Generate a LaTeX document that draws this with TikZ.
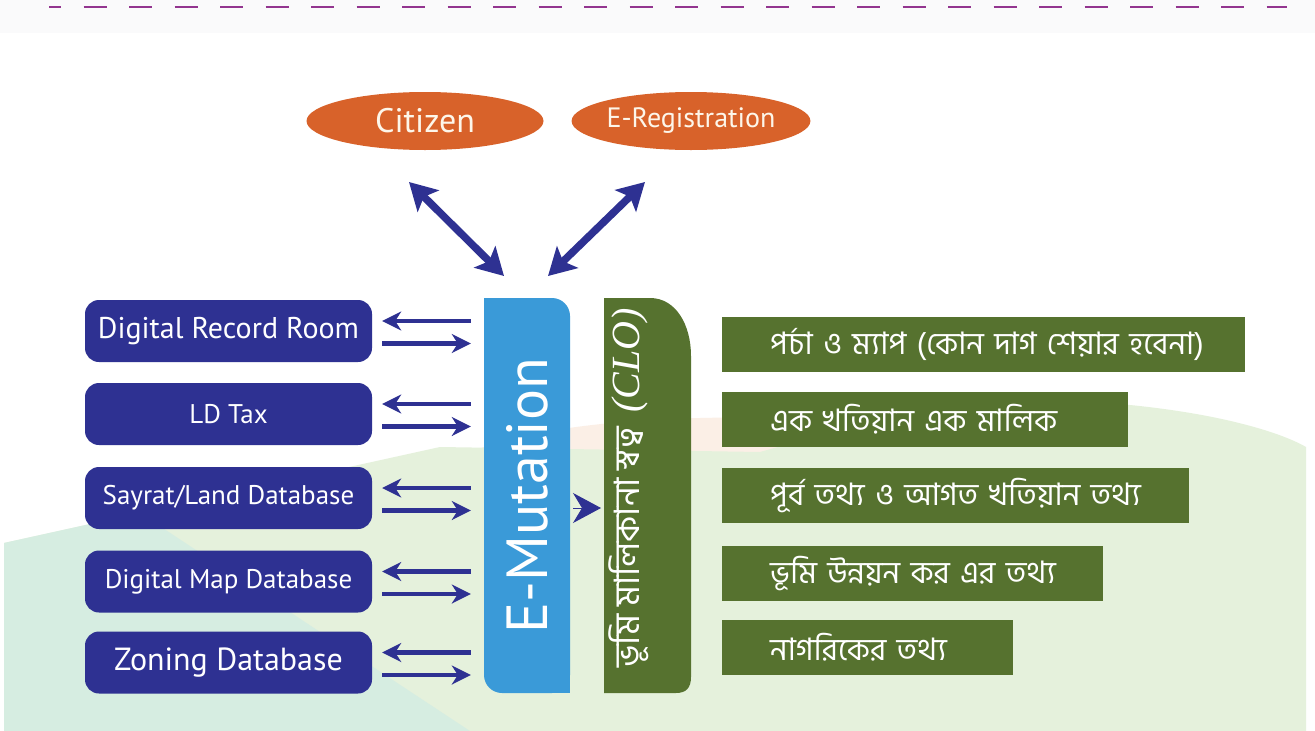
\documentclass[tikz,border=0pt]{standalone}
\usepackage{fontspec}
\setmainfont{PT Sans}
\newfontfamily\bn[Script=Bengali]{Hind Siliguri}
\newfontfamily\tnr{Liberation Serif}
\usetikzlibrary{arrows.meta,calc,shapes.geometric}
\newcommand{\setfs}[1]{\fontsize{#1}{#1}\selectfont}
\definecolor{navy}{HTML}{2E3192}
\definecolor{orangec}{HTML}{D8622A}
\definecolor{cream}{HTML}{FDF6EA}
\definecolor{emblue}{HTML}{3A9AD8}
\definecolor{cgreen}{HTML}{56722F}
\definecolor{dashc}{HTML}{93358F}
\definecolor{topgray}{HTML}{FAFAFB}
\definecolor{bggreen}{HTML}{E5F1DC}
\definecolor{bgteal}{HTML}{D6EDE1}
\definecolor{bgpeach}{HTML}{FBEFE6}
\begin{document}
\begin{tikzpicture}[x=1pt,y=-1pt,
  leftbox/.style={fill=navy, rounded corners=14pt, text=white, minimum width=287pt, minimum height=62pt, inner sep=0pt},
  gbox/.style={fill=cgreen, anchor=west, minimum height=55pt, inner xsep=48pt, inner ysep=0pt, text=white, font=\bn\setfs{31}, align=left},
  oval/.style={ellipse, fill=orangec, text=cream, inner sep=0pt},
  larrow/.style={draw=navy, line width=4.5pt, -{Stealth[length=19pt,width=19pt,inset=6pt]}},
  bigarrow/.style={draw=navy, line width=7.5pt, {Stealth[length=27pt,width=30pt,inset=6pt]}-{Stealth[length=27pt,width=30pt,inset=6pt]}},
  dashline/.style={draw=dashc, line width=2.6pt, dash pattern=on 23pt off 22.5pt, dash phase=11pt}
]
% background
\fill[white] (0,0) rectangle (1315,731);
\fill[topgray] (0,0) rectangle (1315,33);
\fill[bgpeach] (470,452) .. controls (540,425) and (650,415) .. (790,418) -- (790,455) -- cycle;
\fill[bggreen] (4,543) -- (440,447) -- (760,452) .. controls (900,412) and (1050,398) .. (1130,405) .. controls (1220,414) and (1280,432) .. (1306,447) -- (1306,731) -- (4,731) -- cycle;
\fill[bgteal] (4,543) -- (140,513) -- (470,731) -- (4,731) -- cycle;
\draw[dashline] (49,7) -- (1287,7);

% ovals
\node[oval, minimum width=237pt, minimum height=58pt, font=\setfs{34}] (cit) at (425,121) {Citizen};
\node[oval, minimum width=234pt, minimum height=58pt, font=\setfs{28}] (ereg) at (691,121) {\raisebox{-2pt}{E-Registration}};

% E-Mutation
\node[fill=emblue, rounded corners=18pt, minimum width=86pt, minimum height=395pt, inner sep=0pt, text=white] (emut) at (527,495.5) {\rotatebox{90}{\setfs{58}E-Mutation}};
\fill[emblue] (emut.north west) rectangle +(22,22);
\fill[emblue] (emut.south east) rectangle +(-22,-22);

% CLO
\fill[cgreen] (604,298) -- (650,298) .. controls (676,298) and (691,325) .. (691,356) -- (691,677) .. controls (691,688) and (686,693) .. (676,693) -- (604,693) -- cycle;
\coordinate (cloin) at (604,508);
\node[text=white, inner sep=0pt] (clo) at (629,488) {\rotatebox{90}{{\bn\setfs{35}ভূমি মালিকানা স্বত্ব}\hspace{14pt}{\tnr\itshape\setfs{40}(CLO)}}};

% top arrows
\coordinate (c1) at (409,182);
\coordinate (c2) at (504,276);
\coordinate (e1) at (645,182);
\coordinate (e2) at (548,276);
\draw[bigarrow] (c1) -- (c2);
\draw[bigarrow] (e1) -- (e2);

% left boxes
\node[leftbox, font=\setfs{30}] (b1) at (228.5,331) {Digital Record Room};
\node[leftbox, font=\setfs{27}] (b2) at (228.5,414) {LD Tax};
\node[leftbox, font=\setfs{27}] (b3) at (228.5,498) {Sayrat/Land Database};
\node[leftbox, font=\setfs{27}] (b4) at (228.5,581.5) {Digital Map Database};
\node[leftbox, font=\setfs{32}] (b5) at (228.5,662.5) {Zoning Database};

\foreach \b in {b1,b2,b3,b4,b5}{
  \draw[larrow, shorten <=13pt, shorten >=10pt] ($(emut.west |- \b.east)+(0,-10)$) -- ($(\b.east)+(0,-10)$);
  \draw[larrow, shorten <=10pt, shorten >=13pt] ($(\b.east)+(0,12.5)$) -- ($(emut.west |- \b.east)+(0,12.5)$);
}

% emut -> clo
\draw[draw=navy, line width=1pt, -{Stealth[length=28pt,width=30pt,inset=9pt]}, shorten <=3pt, shorten >=3pt] (emut.east |- cloin) -- (cloin);

% right boxes
\node[gbox, text width=427pt] (g1) at (722,344.5) {\mbox{পর্চা ও ম্যাপ (কোন দাগ শেয়ার হবেনা)}};
\node[gbox, text width=310pt] (g2) at (722,419.5) {\mbox{এক খতিয়ান এক মালিক}};
\node[gbox, text width=371pt] (g3) at (722,495.5) {\mbox{পূর্ব তথ্য ও আগত খতিয়ান তথ্য}};
\node[gbox, text width=285pt] (g4) at (722,573.5) {\mbox{ভূমি উন্নয়ন কর এর তথ্য}};
\node[gbox, text width=195pt] (g5) at (722,647) {\mbox{নাগরিকের তথ্য}};
\end{tikzpicture}
\end{document}
